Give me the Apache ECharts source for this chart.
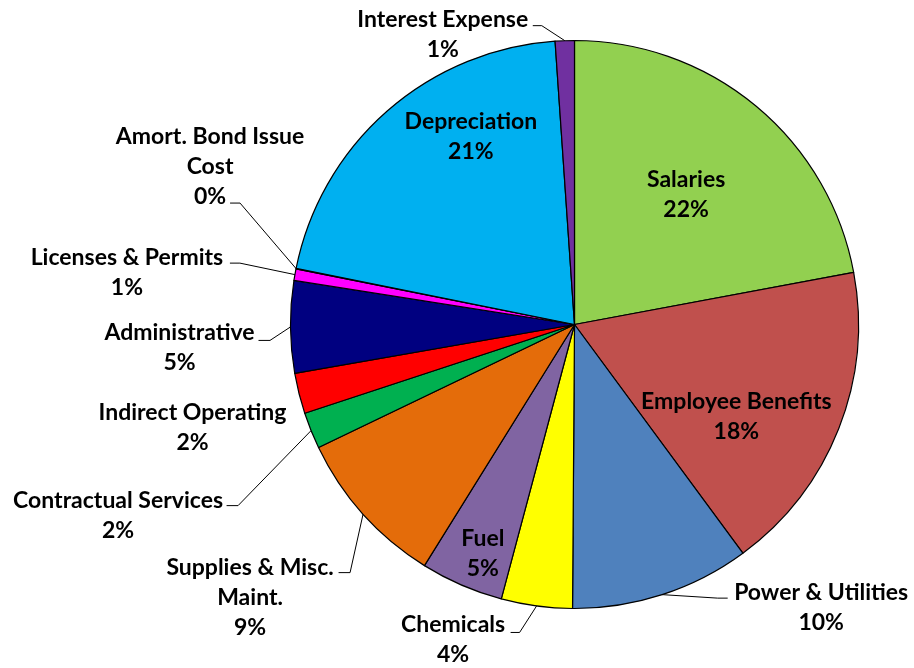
<!DOCTYPE html>
<html>
<head>
<meta charset="utf-8">
<script src="https://cdn.jsdelivr.net/npm/echarts@6/dist/echarts.min.js"></script>
<style>
html,body{margin:0;padding:0;background:#fff;}
#chart{width:914px;height:668px;}
</style>
</head>
<body>
<div id="chart"></div>
<script>
// ---- data ----
const categories = [
  'Salaries', 'Employee Benefits', 'Power & Utilities', 'Chemicals', 'Fuel',
  'Supplies & Misc. Maint.', 'Contractual Services', 'Indirect Operating',
  'Administrative', 'Licenses & Permits', 'Amort. Bond Issue Cost',
  'Depreciation', 'Interest Expense'
];
const shares = [22.06, 17.84, 10.21, 4.04, 4.71, 9.01, 2.07, 2.31, 5.23, 0.66, 0.03, 20.74, 1.09];

// ---- styles ----
const colors = ['#92D050', '#C0504D', '#4F81BD', '#FFFF00', '#8064A2', '#E46C0A',
  '#00B050', '#FF0000', '#000080', '#FF00FF', '#FFC000', '#00B0F0', '#7030A0'];
const wrapped = {
  'Amort. Bond Issue Cost': 'Amort. Bond Issue\nCost',
  'Supplies & Misc. Maint.': 'Supplies & Misc.\nMaint.'
};
const LINE_H = 30;
// inside labels: offset from library default inside position
const insideShift = {
  'Salaries': [19, -18], 'Employee Benefits': [27, 39],
  'Depreciation': [-8, -79], 'Fuel': [-34, 96]
};
// outside labels: [leader dx, leader dy, horizontal tail, label center dx, first-line dy]
const outsideShift = {
  'Interest Expense': [-23, -15, -9, -90, -6.5],
  'Amort. Bond Issue Cost': [-56, -65.5, -10, -20, -66.5],
  'Licenses & Permits': [-55, -11.5, -10, -103, -6],
  'Administrative': [-20.5, 13.5, -11.5, -79, -7.5],
  'Indirect Operating': [0, 0, 0, -106.5, 19.5],
  'Contractual Services': [-73, 75, -11.5, -108.5, -5.5],
  'Supplies & Misc. Maint.': [-13, 58.5, -11.5, -88.5, -5.5],
  'Chemicals': [-17, 26.5, -9, -57.5, -7.5],
  'Power & Utilities': [55.5, 3.5, 10, 93.5, -6]
};

const data = categories.map((name, i) => {
  const inside = insideShift[name] !== undefined;
  return {
    name: name,
    value: shares[i],
    itemStyle: { color: colors[i] },
    label: { position: inside ? 'inside' : 'outside' },
    labelLine: { show: !inside }
  };
});

const chart = echarts.init(document.getElementById('chart'), null, { renderer: 'canvas' });
chart.setOption({
  backgroundColor: '#ffffff',
  animation: false,
  series: [{
    type: 'pie',
    center: [574.5, 324.5],
    radius: 284,
    startAngle: 90,
    clockwise: true,
    avoidLabelOverlap: false,
    emphasis: { disabled: true },
    itemStyle: { borderColor: '#000000', borderWidth: 1.2 },
    label: {
      show: true,
      color: '#000000',
      fontFamily: 'Lato',
      fontWeight: 'bold',
      fontSize: 23,
      lineHeight: LINE_H,
      formatter: p => (wrapped[p.name] || p.name) + '\n' + Math.round(p.percent) + '%'
    },
    labelLine: {
      show: true,
      length: 10,
      length2: 10,
      lineStyle: { color: '#000000', width: 1 }
    },
    labelLayout: function (params) {
      const name = categories[params.dataIndex];
      if (insideShift[name]) {
        return { dx: insideShift[name][0], dy: insideShift[name][1] };
      }
      const s = outsideShift[name];
      const pts = params.labelLinePoints;
      if (!s || !pts) return {};
      const A = pts[0];
      const P1 = [A[0] + s[0], A[1] + s[1]];
      const P2 = [P1[0] + s[2], P1[1]];
      return {
        x: P2[0] + s[3],
        y: P2[1] + s[4] - LINE_H / 2,
        align: 'center',
        verticalAlign: 'top',
        labelLinePoints: [A, P1, P2]
      };
    },
    data: data
  }]
});
</script>
</body>
</html>
